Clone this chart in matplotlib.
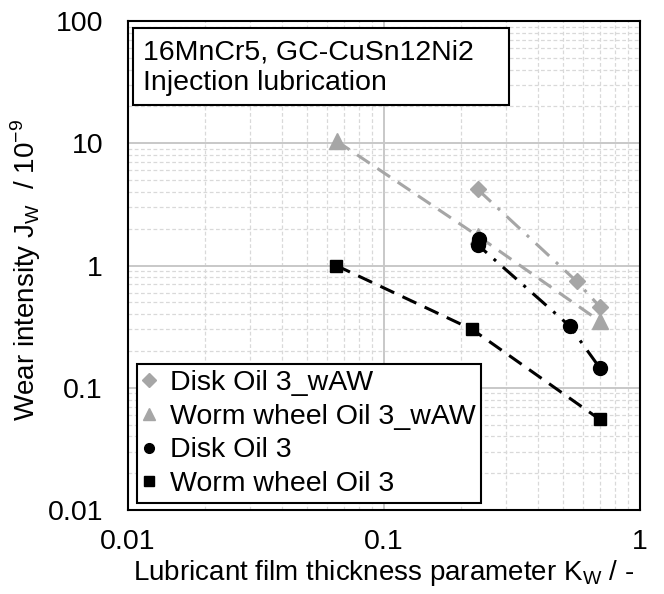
import matplotlib.pyplot as plt
from matplotlib.lines import Line2D
from matplotlib.patches import Rectangle

plt.rcParams['font.family'] = ['Liberation Sans', 'DejaVu Sans']
plt.rcParams['mathtext.fontset'] = 'custom'
plt.rcParams['mathtext.rm'] = 'Liberation Sans'

gray = '#a6a6a6'

# Disk Oil 3_wAW
disk_waw_x = [0.232, 0.566, 0.697]
disk_waw_y = [4.2, 0.74, 0.46]
# Worm wheel Oil 3_wAW
worm_waw_x = [0.0654, 0.232, 0.697]
worm_waw_y = [10.4, 1.75, 0.35]
# Disk Oil 3
disk_x = [0.235, 0.232, 0.531, 0.697]
disk_y = [1.65, 1.48, 0.32, 0.145]
# Worm wheel Oil 3
worm_x = [0.065, 0.221, 0.697]
worm_y = [1.0, 0.30, 0.055]

labels = ['Disk Oil 3_wAW', 'Worm wheel Oil 3_wAW', 'Disk Oil 3', 'Worm wheel Oil 3']

fig = plt.figure(figsize=(6.64, 5.94), dpi=100)
ax = fig.add_axes([128/664, 84/594, 512/664, 489/594])

ax.plot(disk_waw_x, disk_waw_y, color=gray, ls=(0, (6, 3, 1, 3)), lw=2.2,
        marker='D', ms=8, zorder=3)
ax.plot(worm_waw_x, worm_waw_y, color=gray, ls=(0, (5, 3)), lw=2.2,
        marker='^', ms=12, zorder=3)
ax.plot(disk_x, disk_y, color='black', ls=(0, (6, 3, 1, 3)), lw=2.2,
        marker='o', ms=10, zorder=4)
ax.plot(worm_x, worm_y, color='black', ls=(0, (5, 3)), lw=2.2,
        marker='s', ms=9, zorder=4)

ax.set_xscale('log')
ax.set_yscale('log')
ax.set_xlim(0.01, 1)
ax.set_ylim(0.01, 100)

ax.grid(True, which='major', color='#c8c8c8', lw=1.4, ls='-')
ax.grid(True, which='minor', color='#d9d9d9', lw=0.9, ls=(0, (3, 2)))
ax.set_axisbelow(True)
ax.tick_params(which='both', length=0, labelsize=20.5)
ax.tick_params(axis='y', pad=18)
ax.tick_params(axis='x', pad=14)
ax.set_xticks([0.01, 0.1, 1])
ax.set_xticklabels(['0.01', '0.1', '1'])
ax.set_yticks([0.01, 0.1, 1, 10, 100])
ax.set_yticklabels(['0.01', '0.1', '1', '10', '100'])
for s in ax.spines.values():
    s.set_linewidth(1.5)

ax.set_xlabel(r'Lubricant film thickness parameter K$_\mathregular{W}$ / -', fontsize=20, labelpad=2)
ax.set_ylabel(r'Wear intensity J$_\mathregular{W}$  / 10$^\mathregular{-9}$', fontsize=20)
ax.yaxis.set_label_coords(-0.166, 0.49)

# info box
ax.add_patch(Rectangle((0.01, 0.828), 0.734, 0.158, transform=ax.transAxes,
                       fc='white', ec='black', lw=1.5, zorder=5))
ax.text(0.029, 0.962, '16MnCr5, GC-CuSn12Ni2\nInjection lubrication', transform=ax.transAxes,
        fontsize=20.5, va='top', ha='left', linespacing=1.22, zorder=6)

handles = [
    Line2D([], [], ls='none', marker='D', color=gray, ms=7),
    Line2D([], [], ls='none', marker='^', color=gray, ms=8),
    Line2D([], [], ls='none', marker='o', color='black', ms=7),
    Line2D([], [], ls='none', marker='s', color='black', ms=7),
]
leg = ax.legend(handles, labels, loc='lower left', bbox_to_anchor=(0.018, 0.014),
                fontsize=20.5, frameon=True, fancybox=False, framealpha=1,
                edgecolor='black', handlelength=0.4, handletextpad=0.55,
                borderpad=0.2, labelspacing=0.28, borderaxespad=0.0)
leg.get_frame().set_linewidth(1.5)

fig.savefig('out.png', dpi=100)
